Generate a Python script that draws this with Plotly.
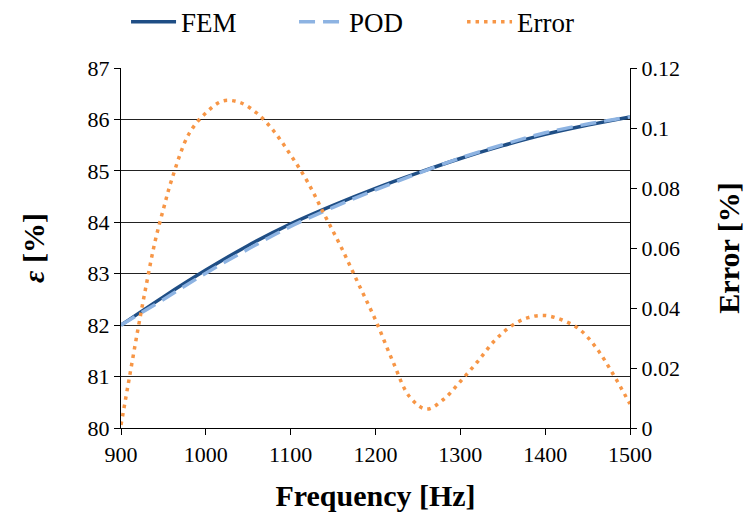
import plotly.graph_objects as go

freq_main = [900, 950, 1000, 1050, 1100, 1150, 1200, 1250, 1300, 1350, 1400, 1450, 1500]
fem = [82.00, 82.55, 83.07, 83.55, 83.97, 84.33, 84.66, 84.96, 85.24, 85.49, 85.71, 85.89, 86.05]
pod = [82.00, 82.50, 83.01, 83.48, 83.92, 84.29, 84.63, 84.95, 85.25, 85.51, 85.74, 85.91, 86.05]

freq_err = [900, 910, 920, 930, 940, 950, 960, 980, 1000, 1020, 1040, 1060, 1080, 1100,
            1120, 1140, 1160, 1180, 1200, 1220, 1240, 1260, 1280, 1300, 1320, 1340,
            1360, 1380, 1400, 1420, 1440, 1460, 1480, 1500]
error = [0.001, 0.017, 0.033, 0.048, 0.062, 0.073, 0.083, 0.098, 0.105, 0.109, 0.1085,
         0.105, 0.099, 0.091, 0.082, 0.071, 0.060, 0.048, 0.036, 0.0225, 0.0105, 0.0063,
         0.0095, 0.0155, 0.022, 0.029, 0.034, 0.0368, 0.0375, 0.036, 0.033, 0.0268,
         0.018, 0.008]

x_ticks = [900, 1000, 1100, 1200, 1300, 1400, 1500]
y_ticks = [80, 81, 82, 83, 84, 85, 86, 87]
y2_ticks = [0, 0.02, 0.04, 0.06, 0.08, 0.1, 0.12]
y2_labels = ["0", "0.02", "0.04", "0.06", "0.08", "0.1", "0.12"]

SERIF = "Liberation Serif"

fig = go.Figure()
fig.add_trace(go.Scatter(x=freq_main, y=fem, name="FEM", mode="lines",
                         line=dict(color="#1F4E85", width=3.5, shape="spline")))
fig.add_trace(go.Scatter(x=freq_main, y=pod, name="POD", mode="lines",
                         line=dict(color="#8DB3E2", width=3.5, shape="spline", dash="16px,8px")))
fig.add_trace(go.Scatter(x=freq_err, y=error, name="Error", mode="lines", yaxis="y2",
                         line=dict(color="#F79646", width=3.5, shape="spline", dash="3.5px,5px")))

fig.update_layout(
    width=750, height=515,
    margin=dict(l=121, r=120, t=68, b=87, autoexpand=False),
    paper_bgcolor="white", plot_bgcolor="white",
    font=dict(family=SERIF, size=22, color="black"),
    showlegend=True,
    legend=dict(orientation="h", x=0.505, xanchor="center", y=0.957, yanchor="middle",
                yref="container", font=dict(family=SERIF, size=27), itemwidth=45,
                entrywidth=108, entrywidthmode="pixels",
                bgcolor="rgba(0,0,0,0)"),
    xaxis=dict(range=[900, 1500], tickvals=x_ticks, showgrid=False, zeroline=False,
               showline=True, linecolor="black", linewidth=1.2, ticks="outside",
               ticklen=6, tickcolor="black", tickfont=dict(family=SERIF, size=22),
               automargin=False,
               title=dict(text="<b>Frequency [Hz]</b>", font=dict(family=SERIF, size=30), standoff=19)),
    yaxis=dict(range=[80, 87], tickvals=y_ticks, showgrid=True, gridcolor="#222222",
               gridwidth=1.2, zeroline=False, showline=True, linecolor="black",
               linewidth=1.2, ticks="outside", ticklen=6, tickcolor="black",
               tickfont=dict(family=SERIF, size=22), automargin=False,
               title=dict(text="<b><i>ε</i> [%]</b>", font=dict(family=SERIF, size=30), standoff=34)),
    yaxis2=dict(range=[0, 0.12], tickvals=y2_ticks, ticktext=y2_labels, overlaying="y",
                side="right", showgrid=False, zeroline=False, showline=True,
                linecolor="black", linewidth=1.2, ticks="outside", ticklen=6,
                tickcolor="black", tickfont=dict(family=SERIF, size=22), automargin=False,
                title=dict(text="<b>Error [%]</b>", font=dict(family=SERIF, size=30), standoff=38)),
)

fig.write_html("out.html")
